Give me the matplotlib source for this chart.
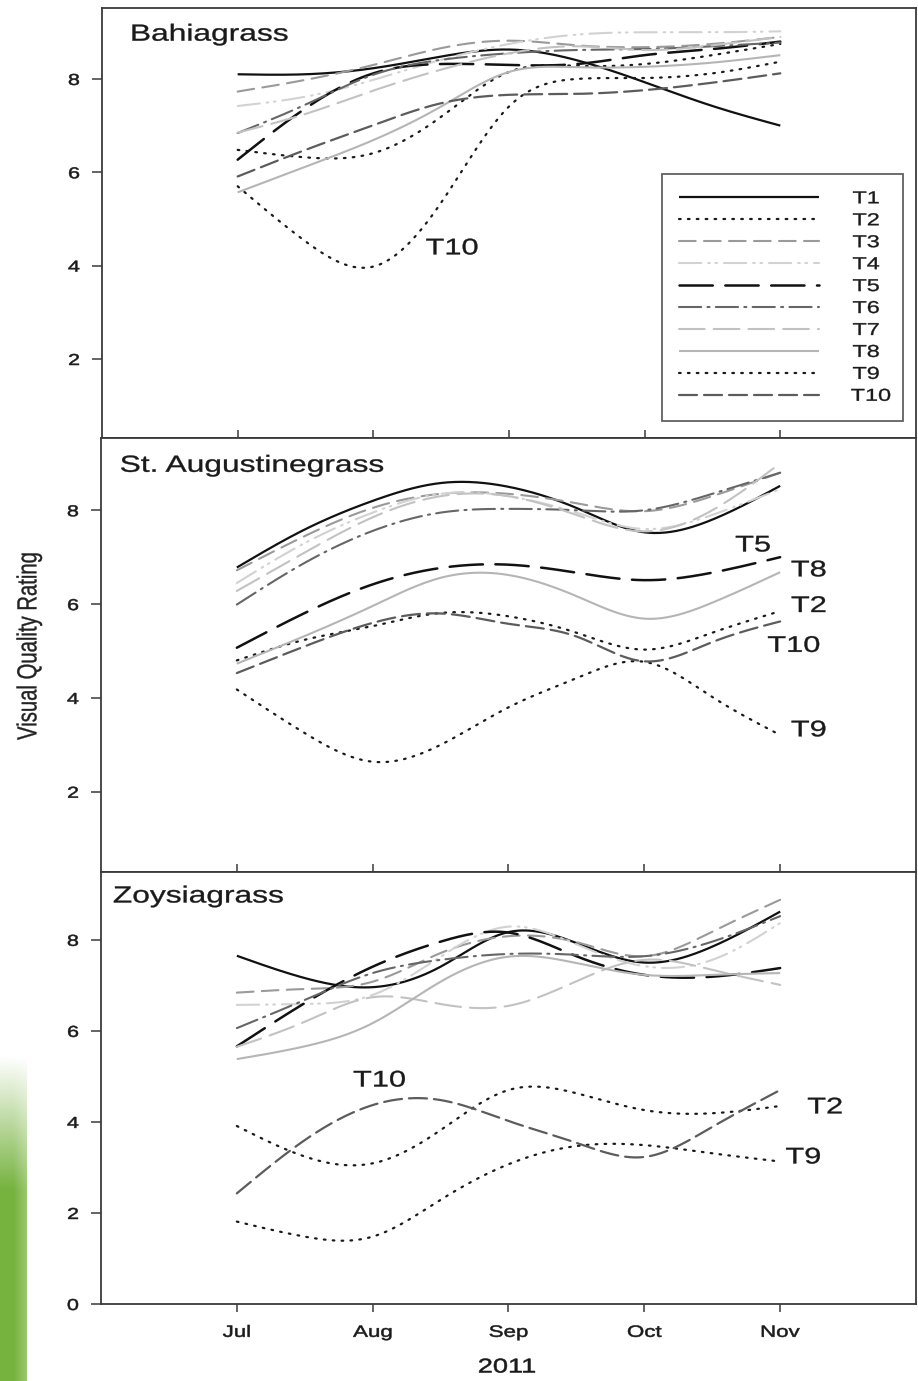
import numpy as np
import matplotlib
matplotlib.use("Agg")
import matplotlib.pyplot as plt
from matplotlib.patheffects import AbstractPathEffect
from matplotlib.transforms import Affine2D

plt.rcParams['font.family'] = ['Liberation Sans', 'DejaVu Sans']
plt.rcParams['lines.scale_dashes'] = False

# ---------------- data ----------------
months = ['Jul', 'Aug', 'Sep', 'Oct', 'Nov']
month_pos = [0, 1, 2, 3, 4]
# ratings read every half month (Jul 1, Jul 15, Aug 1, ... Nov 1)
read_pos = [0, 0.5, 1, 1.5, 2, 2.5, 3, 3.5, 4]
treatments = ['T1', 'T2', 'T3', 'T4', 'T5', 'T6', 'T7', 'T8', 'T9', 'T10']

bahia_values = [
    [8.10, 8.10, 8.23, 8.48, 8.63, 8.40, 7.93, 7.42, 7.00],
    [6.48, 6.32, 6.41, 7.19, 8.15, 8.28, 8.32, 8.51, 8.75],
    [7.73, 7.98, 8.30, 8.66, 8.82, 8.72, 8.68, 8.75, 8.90],
    [7.42, 7.62, 7.98, 8.41, 8.75, 8.95, 9.00, 9.00, 9.02],
    [6.27, 7.37, 8.12, 8.32, 8.30, 8.32, 8.51, 8.64, 8.80],
    [6.84, 7.45, 8.09, 8.41, 8.55, 8.62, 8.64, 8.70, 8.78],
    [6.85, 7.25, 7.75, 8.20, 8.55, 8.70, 8.62, 8.72, 8.90],
    [5.57, 6.12, 6.69, 7.41, 8.15, 8.25, 8.26, 8.35, 8.51],
    [5.70, 4.52, 3.98, 5.35, 7.41, 8.00, 8.02, 8.12, 8.37],
    [5.91, 6.48, 7.01, 7.48, 7.66, 7.68, 7.76, 7.92, 8.12],
]

staug_values = [
    [6.78, 7.59, 8.20, 8.58, 8.50, 8.05, 7.53, 7.80, 8.52],
    [4.80, 5.24, 5.53, 5.81, 5.74, 5.39, 5.03, 5.39, 5.85],
    [6.72, 7.45, 8.05, 8.35, 8.35, 8.15, 7.98, 8.30, 8.80],
    [6.45, 7.30, 7.95, 8.35, 8.30, 7.95, 7.60, 7.90, 8.45],
    [5.07, 5.81, 6.42, 6.77, 6.84, 6.67, 6.51, 6.67, 7.00],
    [5.99, 6.88, 7.56, 7.95, 8.03, 8.00, 8.00, 8.35, 8.80],
    [6.28, 7.10, 7.85, 8.30, 8.30, 7.90, 7.55, 8.00, 9.00],
    [4.73, 5.32, 5.96, 6.56, 6.62, 6.17, 5.69, 6.03, 6.68],
    [4.18, 3.25, 2.64, 3.00, 3.80, 4.42, 4.77, 4.02, 3.21],
    [4.53, 5.10, 5.60, 5.80, 5.58, 5.31, 4.78, 5.19, 5.63],
]

zoysia_values = [
    [7.65, 7.16, 6.96, 7.41, 8.17, 7.93, 7.50, 7.85, 8.62],
    [3.91, 3.24, 3.09, 3.82, 4.70, 4.63, 4.26, 4.19, 4.35],
    [6.84, 6.92, 7.08, 7.71, 8.08, 7.95, 7.64, 8.18, 8.88],
    [6.57, 6.59, 6.79, 7.63, 8.29, 7.90, 7.42, 7.56, 8.37],
    [5.66, 6.61, 7.41, 7.96, 8.16, 7.64, 7.23, 7.19, 7.38],
    [6.06, 6.68, 7.27, 7.56, 7.69, 7.67, 7.64, 7.96, 8.52],
    [5.65, 6.20, 6.74, 6.59, 6.55, 7.09, 7.56, 7.34, 7.01],
    [5.38, 5.66, 6.17, 7.08, 7.63, 7.49, 7.23, 7.23, 7.27],
    [1.81, 1.48, 1.48, 2.29, 3.07, 3.47, 3.49, 3.31, 3.13],
    [2.43, 3.60, 4.37, 4.48, 4.02, 3.54, 3.23, 3.89, 4.70],
]

panel_names = ['Bahiagrass', 'St. Augustinegrass', 'Zoysiagrass']

# ---------------- styles ----------------
DOT = (0, (1.2, 5.2))
styles = [
    dict(color='#111111', lw=1.6, ls='-'),
    dict(color='#1a1a1a', lw=1.6, ls=DOT),
    dict(color='#9a9a9a', lw=1.5, ls=(0, (12, 6))),
    dict(color='#d2d2d2', lw=1.5, ls=(0, (16, 5, 1.2, 4, 1.2, 5))),
    dict(color='#111111', lw=1.8, ls=(0, (24, 9))),
    dict(color='#666666', lw=1.5, ls=(0, (16, 4.5, 1.5, 4.5))),
    dict(color='#c2c2c2', lw=1.5, ls=(0, (18.5, 6.5))),
    dict(color='#b5b5b5', lw=1.5, ls='-'),
    dict(color='#1a1a1a', lw=1.6, ls=DOT),
    dict(color='#5c5c5c', lw=1.6, ls=(0, (13, 5))),
]


class HStretch(AbstractPathEffect):
    """Widen drawn glyphs sideways about their own centre (the source
    picture is stretched horizontally), with an optional outline weight."""

    def __init__(self, sx=1.36, weight=0.0):
        super().__init__()
        self.sx = sx
        self.weight = weight

    def draw_path(self, renderer, gc, tpath, affine, rgbFace=None):
        ext = tpath.get_extents(affine)
        cx = 0.5 * (ext.x0 + ext.x1)
        aff = affine + Affine2D().translate(-cx, 0).scale(self.sx, 1).translate(cx, 0)
        gc0 = renderer.new_gc()
        gc0.copy_properties(gc)
        if self.weight and rgbFace is not None:
            gc0.set_linewidth(self.weight)
            gc0.set_foreground(rgbFace)
            gc0.set_joinstyle('round')
        renderer.draw_path(gc0, tpath, aff, rgbFace)
        gc0.restore()


STRETCH = [HStretch(1.36, 0.25)]
STRETCH_TICK = [HStretch(1.36, 0.38)]


def natural_spline(x, y, xs):
    x = np.asarray(x, float)
    y = np.asarray(y, float)
    n = len(x)
    h = np.diff(x)
    A = np.zeros((n, n))
    b = np.zeros(n)
    A[0, 0] = 1
    A[-1, -1] = 1
    for i in range(1, n - 1):
        A[i, i - 1] = h[i - 1]
        A[i, i] = 2 * (h[i - 1] + h[i])
        A[i, i + 1] = h[i]
        b[i] = 6 * ((y[i + 1] - y[i]) / h[i] - (y[i] - y[i - 1]) / h[i - 1])
    M = np.linalg.solve(A, b)
    idx = np.clip(np.searchsorted(x, xs) - 1, 0, n - 2)
    x0, x1 = x[idx], x[idx + 1]
    hh = x1 - x0
    t0 = x1 - xs
    t1 = xs - x0
    return (M[idx] * t0 ** 3 / (6 * hh) + M[idx + 1] * t1 ** 3 / (6 * hh)
            + (y[idx] / hh - M[idx] * hh / 6) * t0
            + (y[idx + 1] / hh - M[idx + 1] * hh / 6) * t1)


W, H = 918, 1381
fig = plt.figure(figsize=(W / 100, H / 100), dpi=100)


def rect(x0, y0, x1, y1):
    return [x0 / W, 1 - y1 / H, (x1 - x0) / W, (y1 - y0) / H]


ax_top = fig.add_axes(rect(102, 8, 916, 438))
ax_mid = fig.add_axes(rect(101, 438, 916, 872))
ax_bot = fig.add_axes(rect(101, 872, 916, 1304))
axes = [ax_top, ax_mid, ax_bot]
ylims = [(0.307, 9.52), (0.29, 9.54), (0, 9.49)]
all_values = [bahia_values, staug_values, zoysia_values]
title_cx = [-0.205, 0.115, -0.28]   # title centres (month units)

xs = np.linspace(0, 4, 300)
spine_col = '#3a3a3a'
txt_col = '#1a1a1a'
for k, ax in enumerate(axes):
    vals = all_values[k]
    for i, row in enumerate(vals):
        st = styles[i]
        ax.plot(xs, natural_spline(read_pos, row, xs), color=st['color'],
                lw=st['lw'], linestyle=st['ls'], label=treatments[i],
                dash_capstyle='round', solid_capstyle='butt')
    ax.set_xlim(-1.0, 5.0)
    ax.set_ylim(*ylims[k])
    for s in ax.spines.values():
        s.set_color(spine_col)
        s.set_linewidth(1.3)
    ax.set_xticks(month_pos)
    ax.text(title_cx[k], 8.82, panel_names[k], fontsize=16.8,
            ha='center', va='baseline', color=txt_col, path_effects=STRETCH)
    if k < 2:
        ax.set_yticks([2, 4, 6, 8])
        ax.tick_params(axis='x', direction='in', length=6, width=1.1,
                       color=spine_col, labelbottom=False)
    else:
        ax.set_yticks([0, 2, 4, 6, 8])
        ax.set_xticklabels(months)
        ax.tick_params(axis='x', direction='out', length=6, width=1.1,
                       color=spine_col, pad=9, labelsize=11.8,
                       labelcolor=txt_col)
    ax.tick_params(axis='y', direction='out', length=7, width=1.1,
                   color=spine_col, pad=10, labelsize=11.4, labelcolor=txt_col)

# inline labels
lab_kw = dict(fontsize=16.3, ha='center', va='center', color=txt_col,
              path_effects=STRETCH)
ax_top.text(1.58, 4.38, 'T10', **lab_kw)
for txt, x, y in [('T5', 3.80, 7.26), ('T8', 4.21, 6.73), ('T2', 4.21, 5.97),
                  ('T10', 4.10, 5.12), ('T9', 4.21, 3.32)]:
    ax_mid.text(x, y, txt, **lab_kw)
for txt, x, y in [('T10', 1.05, 4.92), ('T2', 4.33, 4.33), ('T9', 4.17, 3.23)]:
    ax_bot.text(x, y, txt, **lab_kw)

leg = ax_top.legend(loc='lower right', bbox_to_anchor=(0.984, 0.0395),
                    borderaxespad=0, fontsize=12.4, frameon=True, fancybox=False,
                    handlelength=8.1, handletextpad=2.15, labelspacing=0.40,
                    borderpad=1.0)
leg.get_frame().set_edgecolor(spine_col)
leg.get_frame().set_linewidth(1.3)
for t in leg.get_texts():
    t.set_color(txt_col)
    t.set_path_effects(STRETCH)

fig.text(29 / W, 1 - 646 / H, 'Visual Quality Rating', rotation=90,
         ha='center', va='center', fontsize=14.6, color='#222222',
         path_effects=STRETCH)
fig.text(507 / W, 1 - 1367 / H, '2011', ha='center', va='center',
         fontsize=14.4, color=txt_col, path_effects=STRETCH_TICK)

# decorative grass strip at bottom-left
gax = fig.add_axes([0, 0, 27 / W, 335 / H])
gax.axis('off')
ny, nx = 160, 14
yy = np.linspace(0, 1, ny)[:, None]
xx = np.linspace(0, 1, nx)[None, :]
alpha = np.clip((yy - 0.03) / 0.4, 0, 1) * np.clip(1.25 - xx * 0.5, 0, 1)
green = np.array([118, 178, 62]) / 255.0
img = np.ones((ny, nx, 3)) * (1 - alpha[..., None]) + green * alpha[..., None]
gax.imshow(img, aspect='auto', origin='upper')

# widen tick labels the same way
fig.canvas.draw()
for ax in axes:
    for lbl in ax.get_xticklabels() + ax.get_yticklabels():
        lbl.set_path_effects(STRETCH_TICK)

fig.savefig('out.png', dpi=100)
